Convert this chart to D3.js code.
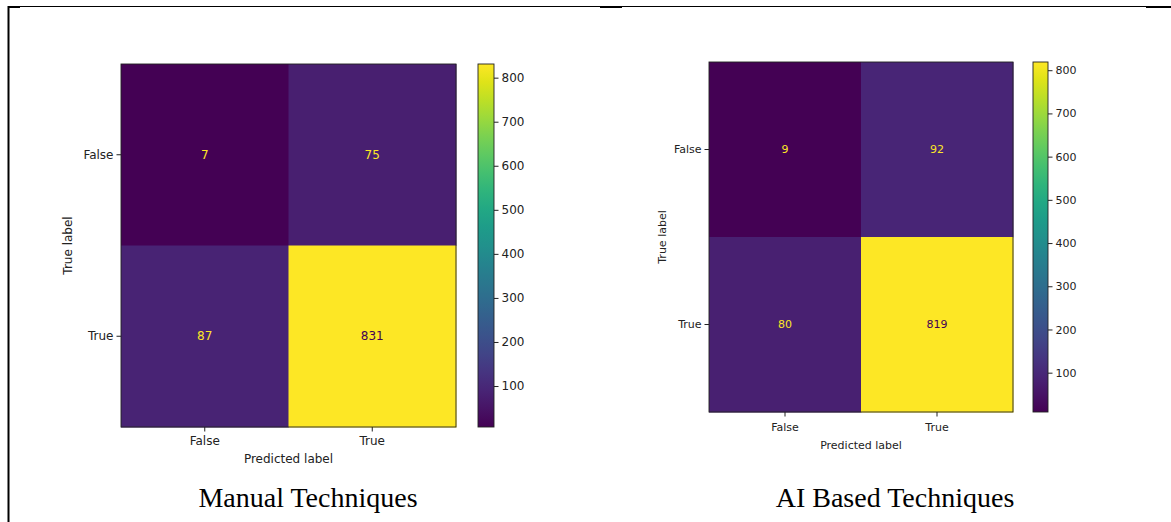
<!DOCTYPE html>
<html>
<head>
<meta charset="utf-8">
<script src="https://cdn.jsdelivr.net/npm/d3@7"></script>
<style>
  body { margin: 0; background: #fff; }
  svg { display: block; }
</style>
</head>
<body>
<svg id="chart" width="1171" height="522"></svg>
<script>
// Data
const classLabels = ["False", "True"];
const manualMatrix = [[7, 75], [87, 831]];
const aiMatrix = [[9, 92], [80, 819]];
const colorbarTicks = [100, 200, 300, 400, 500, 600, 700, 800];
const panelTitles = ["Manual Techniques", "AI Based Techniques"];

const svg = d3.select("#chart");

// Page frame lines (document border)
svg.append("line").attr("x1", 8).attr("x2", 1171).attr("y1", 6.5).attr("y2", 6.5)
    .attr("stroke", "#000").attr("stroke-width", 1.2);
svg.append("line").attr("x1", 8.5).attr("x2", 8.5).attr("y1", 6).attr("y2", 522)
    .attr("stroke", "#000").attr("stroke-width", 2);
[[8, 20], [600, 622], [1146, 1171]].forEach(([a, b]) => {
    svg.append("line").attr("x1", a).attr("x2", b).attr("y1", 7).attr("y2", 7)
        .attr("stroke", "#000").attr("stroke-width", 2);
});

// Gradient for colorbars
const defs = svg.append("defs");
const grad = defs.append("linearGradient").attr("id", "viridisGrad")
    .attr("x1", 0).attr("x2", 0).attr("y1", 1).attr("y2", 0);
d3.range(0, 1.0001, 0.05).forEach(t => {
    grad.append("stop").attr("offset", t).attr("stop-color", d3.interpolateViridis(t));
});

function drawMatrix(matrix, opt) {
    const vals = matrix.flat();
    const vmin = d3.min(vals), vmax = d3.max(vals);
    const color = d3.scaleSequential(d3.interpolateViridis).domain([vmin, vmax]);
    const thresh = (vmin + vmax) / 2;

    const g = svg.append("g").attr("transform", `translate(${opt.left}, ${opt.top})`);

    const x = d3.scaleBand().domain(classLabels).range([0, opt.width]);
    const y = d3.scaleBand().domain(classLabels).range([0, opt.height]);

    const cells = [];
    matrix.forEach((row, i) => row.forEach((v, j) => cells.push({ t: classLabels[i], p: classLabels[j], v })));

    g.selectAll("rect.cell")
        .data(cells)
        .enter()
        .append("rect")
        .attr("class", "cell")
        .attr("x", d => x(d.p))
        .attr("y", d => y(d.t))
        .attr("width", x.bandwidth() + 0.5)
        .attr("height", y.bandwidth() + 0.5)
        .attr("fill", d => color(d.v));

    g.selectAll("text.val")
        .data(cells)
        .enter()
        .append("text")
        .attr("class", "val")
        .attr("x", d => x(d.p) + x.bandwidth() / 2)
        .attr("y", d => y(d.t) + y.bandwidth() / 2)
        .attr("dy", "0.35em")
        .attr("text-anchor", "middle")
        .attr("font-family", "DejaVu Sans")
        .attr("font-size", opt.font)
        .attr("fill", d => d.v < thresh ? color(vmax) : color(vmin))
        .text(d => d.v);

    // Spines
    g.append("rect").attr("width", opt.width).attr("height", opt.height)
        .attr("fill", "none").attr("stroke", "#222").attr("stroke-width", 0.9);

    // Axes
    const xAxis = g.append("g").attr("transform", `translate(0, ${opt.height})`)
        .call(d3.axisBottom(x).tickSize(4.5).tickPadding(opt.xPad));
    const yAxis = g.append("g")
        .call(d3.axisLeft(y).tickSize(4.5).tickPadding(3));
    [xAxis, yAxis].forEach(a => {
        a.select(".domain").remove();
        a.selectAll("text").attr("font-family", "DejaVu Sans").attr("font-size", opt.font).attr("fill", "#222");
        a.selectAll("line").attr("stroke", "#222");
    });

    g.append("text")
        .attr("x", opt.width / 2)
        .attr("y", opt.height + opt.xLabelOff)
        .attr("text-anchor", "middle")
        .attr("font-family", "DejaVu Sans")
        .attr("font-size", opt.font)
        .attr("fill", "#222")
        .text("Predicted label");

    g.append("text")
        .attr("transform", `translate(${opt.yLabelOff}, ${opt.height / 2}) rotate(-90)`)
        .attr("text-anchor", "middle")
        .attr("dy", "0.35em")
        .attr("font-family", "DejaVu Sans")
        .attr("font-size", opt.font)
        .attr("fill", "#222")
        .text("True label");

    // Colorbar
    const cb = svg.append("g").attr("transform", `translate(${opt.cbLeft}, ${opt.top})`);
    cb.append("rect").attr("width", opt.cbWidth).attr("height", opt.height)
        .attr("fill", "url(#viridisGrad)").attr("stroke", "#222").attr("stroke-width", 0.9);
    const cy = d3.scaleLinear().domain([vmin, vmax]).range([opt.height, 0]);
    const cAxis = cb.append("g").attr("transform", `translate(${opt.cbWidth}, 0)`)
        .call(d3.axisRight(cy).tickValues(colorbarTicks).tickSize(4.5).tickPadding(3));
    cAxis.select(".domain").remove();
    cAxis.selectAll("text").attr("font-family", "DejaVu Sans").attr("font-size", opt.font).attr("fill", "#222");
    cAxis.selectAll("line").attr("stroke", "#222");

    // Panel title
    svg.append("text")
        .attr("x", opt.titleX)
        .attr("y", 507)
        .attr("text-anchor", "middle")
        .attr("font-family", "Liberation Serif")
        .attr("font-size", 28)
        .attr("fill", "#000")
        .text(opt.title);
}

drawMatrix(manualMatrix, {
    left: 121, top: 64, width: 335, height: 363, font: 12,
    xPad: 5, xLabelOff: 36, yLabelOff: -53,
    cbLeft: 478, cbWidth: 16,
    titleX: 308, title: panelTitles[0]
});

drawMatrix(aiMatrix, {
    left: 709, top: 62, width: 304, height: 350, font: 11,
    xPad: 6.5, xLabelOff: 37, yLabelOff: -47,
    cbLeft: 1033, cbWidth: 15,
    titleX: 895, title: panelTitles[1]
});
</script>
</body>
</html>
